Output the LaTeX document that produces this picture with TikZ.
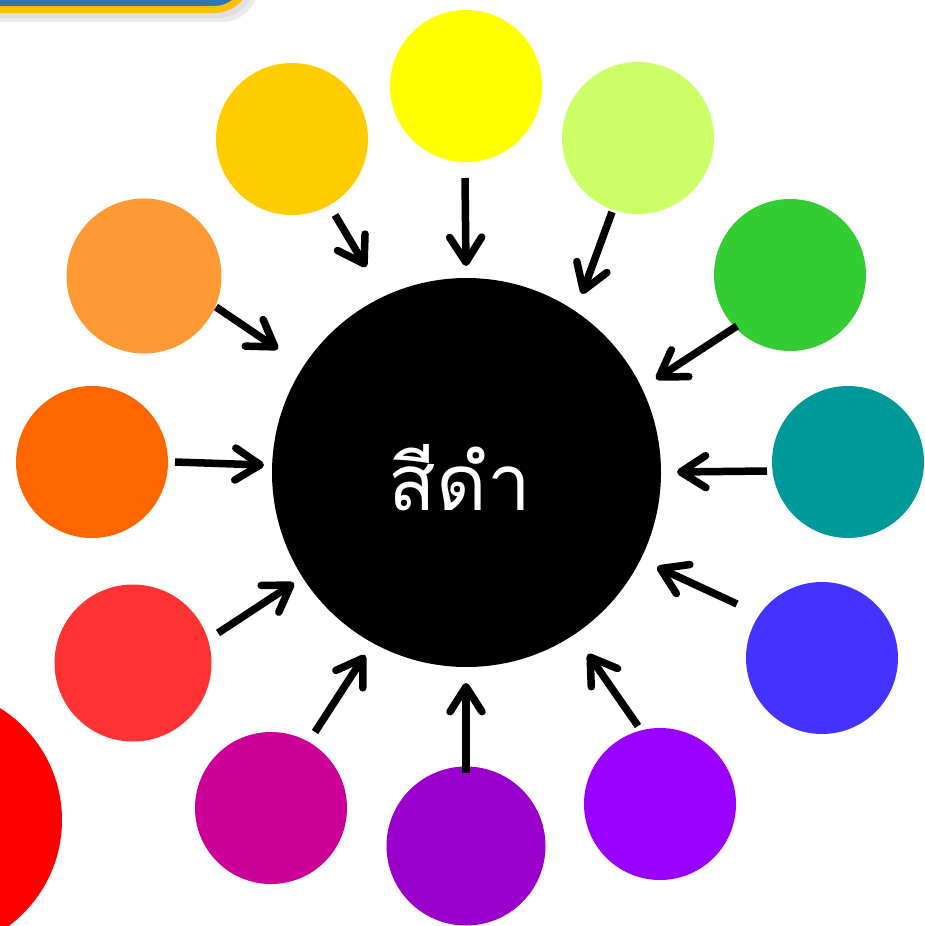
\documentclass[tikz,border=0pt]{standalone}
\usepackage{fontspec}
\newfontfamily\thaifont[Script=Thai]{Loma}
\usetikzlibrary{arrows.meta}
\definecolor{cYellow}{HTML}{FFFF00}
\definecolor{cLime}{HTML}{CCFF66}
\definecolor{cGreen}{HTML}{33CC33}
\definecolor{cTeal}{HTML}{009999}
\definecolor{cBlue}{HTML}{4433FF}
\definecolor{cViolet}{HTML}{9900FF}
\definecolor{cPurple}{HTML}{9900CC}
\definecolor{cMagenta}{HTML}{CC0099}
\definecolor{cRed}{HTML}{FF3333}
\definecolor{cOrange}{HTML}{FF6600}
\definecolor{cLOrange}{HTML}{FF9933}
\definecolor{cGold}{HTML}{FFCC00}
\definecolor{cBanner}{HTML}{2E75B6}
\definecolor{cBorder}{HTML}{FFC000}
\begin{document}
\begin{tikzpicture}[x=1pt,y=-1pt,
  dot/.style={circle,minimum size=152pt,inner sep=0pt,draw=none},
  arr/.style={line width=7.5pt,line cap=butt,
    -{Straight Barb[length=25pt,width=32pt,line cap=round,line join=round]}}]
\useasboundingbox (0,0) rectangle (924,926);
\begin{scope}
\clip (0,0) rectangle (924,926);
% banner
\fill[black!8,rounded corners=36pt] (-60,-60) rectangle (258,22);
\fill[black!12,rounded corners=36pt] (-60,-60) rectangle (254,18);
\draw[cBorder,fill=cBanner,line width=7pt,rounded corners=34pt] (-60,-70) rectangle (248,9.5);
% big red
\fill[red] (-70,820) circle[radius=132];
\end{scope}
\node[circle,fill=black,minimum size=389pt,inner sep=0pt] (c) at (466.5,472.5) {};
\node[text=white,font=\thaifont\fontsize{78}{84}\selectfont] at (460,478) {สีดำ};
\node[dot,fill=cYellow] (n1) at (466,86) {};
\node[dot,fill=cLime] (n2) at (638,138) {};
\node[dot,fill=cGreen] (n3) at (790,275) {};
\node[dot,fill=cTeal] (n4) at (848,462) {};
\node[dot,fill=cBlue] (n5) at (822,658) {};
\node[dot,fill=cViolet] (n6) at (660,804) {};
\node[dot,fill=cPurple,minimum size=159pt] (n7) at (466,846) {};
\node[dot,fill=cMagenta] (n8) at (271,808) {};
\node[dot,fill=cRed,minimum size=157pt] (n9) at (133,663) {};
\node[dot,fill=cOrange] (n10) at (92,462) {};
\node[dot,fill=cLOrange,minimum size=155pt] (n11) at (144,276) {};
\node[dot,fill=cGold] (n12) at (292,139) {};
% arrow endpoints
\coordinate (a1) at (465,178); \coordinate (b1) at (466,266);
\coordinate (a2) at (612,212); \coordinate (b2) at (582,294);
\coordinate (a3) at (737,326); \coordinate (b3) at (656,379);
\coordinate (a4) at (767,471); \coordinate (b4) at (677,472);
\coordinate (a5) at (737,604); \coordinate (b5) at (657,567);
\coordinate (a6) at (638,726); \coordinate (b6) at (588,654);
\coordinate (a7) at (466,773); \coordinate (b7) at (466,683);
\coordinate (a8) at (315,732); \coordinate (b8) at (365,655);
\coordinate (a9) at (218,633); \coordinate (b9) at (294,583);
\coordinate (a10) at (175,462); \coordinate (b10) at (264,465);
\coordinate (a11) at (216,307); \coordinate (b11) at (278,349);
\coordinate (a12) at (335,215); \coordinate (b12) at (366,267);
\foreach \i in {1,...,12} \draw[arr] (a\i) -- (b\i);
\end{tikzpicture}
\end{document}
